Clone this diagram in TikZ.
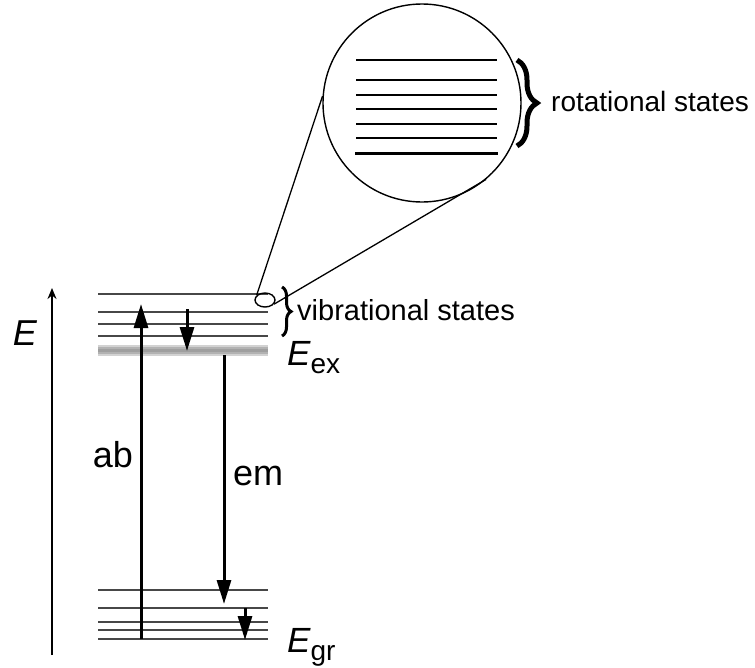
\documentclass[tikz,border=0pt]{standalone}
\usepackage{fontspec}
\setmainfont{Liberation Sans}
\usetikzlibrary{arrows.meta, positioning, calc, shapes.geometric, decorations.pathreplacing}

\tikzset{
  level/.style={line width=1.7pt, black!72},
  trans/.style={line width=3pt, -{Triangle[length=24pt,width=14pt]}},
  axisarrow/.style={line width=2.4pt, -{Stealth[length=11pt,width=9pt]}},
  bigtxt/.style={font=\fontsize{36}{40}\selectfont, inner sep=0pt},
  vibtxt/.style={font=\fontsize{29}{32}\selectfont, inner sep=0pt},
  rottxt/.style={font=\fontsize{28}{32}\selectfont, inner sep=0pt},
  bracket/.style={decorate, decoration={brace, amplitude=#1}}
}
\newcommand{\subtxt}[1]{\raisebox{-8pt}{\fontsize{28}{30}\selectfont\upshape #1}}

\begin{document}
\begin{tikzpicture}[x=1pt, y=-1pt]
\useasboundingbox (0,0) rectangle (755,667);

% energy axis
\coordinate (axbot) at (52,655);
\coordinate (axtop) at (52,288);
\draw[axisarrow] (axbot) -- (axtop);
\node[bigtxt] (elabel) at (25,333) {\itshape E};

% excited state band
\draw[gray!35, line width=11pt] (98,350) -- (268,350);
\draw[gray!60, line width=7pt] (98,350) -- (268,350);
\draw[gray!75, line width=3pt] (98,350) -- (268,350);
\foreach \y in {294,312,324,336} {
    \draw[level] (98,\y) -- (268,\y);
}
\node[font=\fontsize{35}{40}\selectfont, inner sep=0pt, anchor=base west] (eex) at (287,365) {\itshape E\subtxt{ex}};

% ground state band
\foreach \y in {590,608,622,630,639} {
    \draw[level] (98,\y) -- (268,\y);
}
\node[font=\fontsize{35}{40}\selectfont, inner sep=0pt, anchor=base west] (egr) at (287,652) {\itshape E\subtxt{gr}};

% transitions
\coordinate (abfrom) at (141,639);
\coordinate (abto) at (141,304);
\draw[trans] (abfrom) -- (abto);
\node[bigtxt, anchor=base east] (ab) at (133,467) {ab};

\coordinate (relaxfrom) at (187,309);
\coordinate (relaxto) at (187,351);
\draw[trans] (relaxfrom) -- (relaxto);

\coordinate (emfrom) at (224,355);
\coordinate (emto) at (224,604);
\draw[trans] (emfrom) -- (emto);
\node[bigtxt, anchor=base west] (em) at (233,485) {em};

\coordinate (gfrom) at (245,608);
\coordinate (gto) at (245,640);
\draw[trans] (gfrom) -- (gto);

% vibrational states
\draw[bracket=9pt, line width=3pt] (282,287) -- (282,336);
\node[vibtxt, anchor=base west] (vib) at (297,320) {vibrational states};

% magnified view
\node[ellipse, draw, line width=1.4pt, minimum width=20pt, minimum height=14pt, inner sep=0pt] (spot) at (265,300) {};
\node[circle, draw, line width=1.4pt, minimum size=198pt, inner sep=0pt] (zoom) at (422,103) {};
\draw[line width=1.3pt] (spot.150) -- (zoom.176);
\draw[line width=1.3pt] (spot.-25) -- (zoom.-50);
\foreach \y in {60,80,95,109,124,138} {
    \draw[line width=1.6pt] (356,\y) -- (497,\y);
}
\draw[line width=3pt] (355,153) -- (498,153);
\draw[bracket=20pt, line width=5pt] (517,60) -- (517,146);
\node[rottxt, anchor=base west] (rot) at (551,111) {rotational states};
\end{tikzpicture}
\end{document}
